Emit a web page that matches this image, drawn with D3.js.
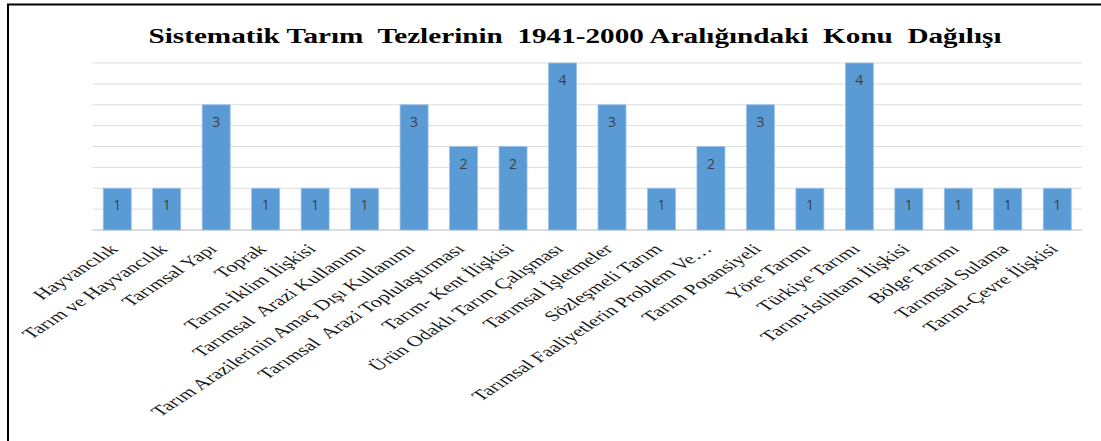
<!DOCTYPE html>
<html>
<head>
<meta charset="utf-8">
<script src="https://cdn.jsdelivr.net/npm/d3@7"></script>
<style>
  body { margin: 0; background: #fff; }
  svg text { white-space: pre; }
</style>
</head>
<body>
<div id="chart"></div>
<script>
// data
const topics = [
  "Hayvancılık", "Tarım ve Hayvancılık", "Tarımsal Yapı", "Toprak",
  "Tarım-İklim İlişkisi", "Tarımsal  Arazi Kullanımı",
  "Tarım Arazilerinin Amaç Dışı Kullanımı", "Tarımsal  Arazi Toplulaştırması",
  "Tarım- Kent İlişkisi", "Ürün Odaklı Tarım Çalışması", "Tarımsal İşletmeler",
  "Sözleşmeli Tarım", "Tarımsal Faaliyetlerin Problem Ve…", "Tarım Potansiyeli",
  "Yöre Tarımı", "Türkiye Tarımı", "Tarım-İstihtam İlişkisi", "Bölge Tarımı",
  "Tarımsal Sulama", "Tarım-Çevre İlişkisi"
];
const counts = [1, 1, 3, 1, 1, 1, 3, 2, 2, 4, 3, 1, 2, 3, 1, 4, 1, 1, 1, 1];
const gridTicks = [0, 0.5, 1, 1.5, 2, 2.5, 3, 3.5, 4];
const chartTitle = "Sistematik Tarım  Tezlerinin  1941-2000 Aralığındaki  Konu  Dağılışı";

const width = 1101, height = 441;
const plot = {left: 92.5, right: 1082, top: 63, bottom: 230};

const svg = d3.select("#chart").append("svg")
    .attr("width", width)
    .attr("height", height);

// outer frame (cut by the picture edge)
svg.append("rect")
    .attr("x", 8).attr("y", 4.5)
    .attr("width", width + 10).attr("height", height + 10)
    .attr("fill", "none")
    .attr("stroke", "#000")
    .attr("stroke-width", 2);

let data = topics.map((t, i) => ({topic: t, value: counts[i]}));

let x = d3.scaleBand()
    .domain(topics)
    .range([plot.left, plot.right])
    .paddingInner(0.434)
    .paddingOuter(0.217);

let y = d3.scaleLinear()
    .domain([0, 4])
    .range([plot.bottom, plot.top]);

// gridlines
svg.append("g")
    .selectAll("line")
    .data(gridTicks)
    .join("line")
    .attr("x1", plot.left)
    .attr("x2", plot.right)
    .attr("y1", d => y(d))
    .attr("y2", d => y(d))
    .attr("stroke", d => d === 0 ? "#d0d0d0" : "#dcdcdc")
    .attr("stroke-width", d => d === 0 ? 1.5 : 1);

// bars
svg.append("g")
    .selectAll("rect")
    .data(data)
    .join("rect")
    .attr("x", d => x(d.topic))
    .attr("y", d => y(d.value))
    .attr("width", x.bandwidth())
    .attr("height", d => y(0) - y(d.value))
    .attr("fill", "#5b9bd5")
    .attr("stroke", "#9cc2e8")
    .attr("stroke-width", 0.8);

// value labels inside the bars
svg.append("g")
    .selectAll("text")
    .data(data)
    .join("text")
    .attr("x", d => x(d.topic) + x.bandwidth() / 2)
    .attr("y", d => y(d.value) + 22)
    .attr("text-anchor", "middle")
    .attr("font-family", "'Open Sans', 'DejaVu Sans', sans-serif")
    .attr("font-size", 14)
    .attr("fill", "#404040")
    .text(d => d.value);

// category labels, slanted (the source picture is stretched sideways)
svg.append("g")
    .selectAll("text")
    .data(data)
    .join("text")
    .attr("transform", d => `translate(${x(d.topic) + x.bandwidth() / 2 + 2}, ${plot.bottom + 20}) scale(1.53,1) rotate(-45)`)
    .attr("text-anchor", "end")
    .attr("font-family", "'Liberation Serif', 'Times New Roman', serif")
    .attr("font-size", 14.6)
    .attr("fill", "#1a1a1a")
    .text(d => d.topic);

// title
svg.append("text")
    .attr("x", 575)
    .attr("y", 43)
    .attr("text-anchor", "middle")
    .attr("font-family", "'Liberation Serif', 'Times New Roman', serif")
    .attr("font-weight", "bold")
    .attr("font-size", 21)
    .attr("textLength", 853)
    .attr("lengthAdjust", "spacingAndGlyphs")
    .attr("fill", "#000")
    .text(chartTitle);
</script>
</body>
</html>
